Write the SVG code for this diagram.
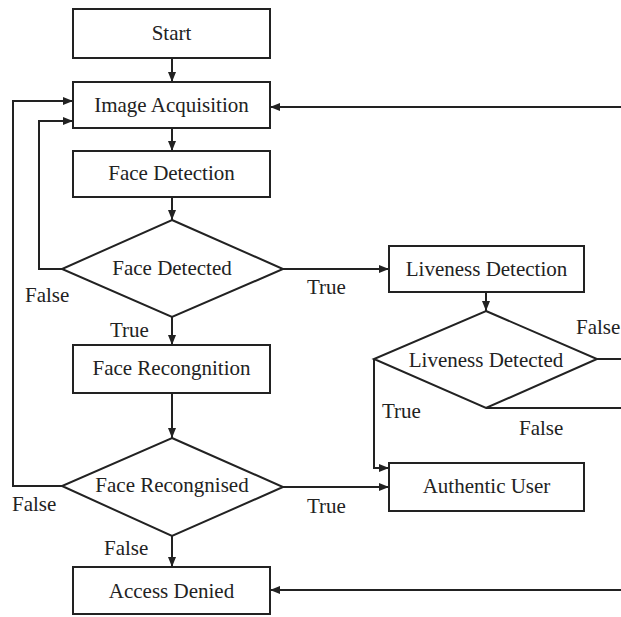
<svg xmlns="http://www.w3.org/2000/svg" width="621" height="617" viewBox="0 0 621 617">
<style>
.n{fill:#fff;stroke:#222;stroke-width:2}
.t{font-family:"Liberation Serif","Times New Roman",serif;font-size:21px;fill:#222}
.c{text-anchor:middle}
.e{fill:none;stroke:#222;stroke-width:2}
</style>
<defs>
<marker id="a" markerUnits="userSpaceOnUse" markerWidth="10" markerHeight="8" refX="10" refY="4" orient="auto">
<path d="M0,0 L10,4 L0,8 z" fill="#222"/>
</marker>
</defs>
<rect width="621" height="617" fill="#fff"/>
<g id="connectors">
<path class="e" d="M172,58 V82" marker-end="url(#a)"/>
<path class="e" d="M172,128 V151" marker-end="url(#a)"/>
<path class="e" d="M172,197 V220" marker-end="url(#a)"/>
<path class="e" d="M172,317 V345" marker-end="url(#a)"/>
<path class="e" d="M172,393 V438" marker-end="url(#a)"/>
<path class="e" d="M172,536 V567" marker-end="url(#a)"/>
<path class="e" d="M62,269 H39 V121 H73" marker-end="url(#a)"/>
<path class="e" d="M62,486 H13 V101 H73" marker-end="url(#a)"/>
<path class="e" d="M283,269 H389" marker-end="url(#a)"/>
<path class="e" d="M486,292 V311" marker-end="url(#a)"/>
<path class="e" d="M597,359 H621"/>
<path class="e" d="M486,408 H621"/>
<path class="e" d="M374,359 V468 H389" marker-end="url(#a)"/>
<path class="e" d="M283,487 H389" marker-end="url(#a)"/>
<path class="e" d="M621,107 H270" marker-end="url(#a)"/>
<path class="e" d="M621,590 H270" marker-end="url(#a)"/>
<text class="t" x="25" y="302">False</text>
<text class="t" x="110" y="337">True</text>
<text class="t" x="307" y="294">True</text>
<text class="t" x="576" y="334">False</text>
<text class="t" x="382" y="418">True</text>
<text class="t" x="519" y="435">False</text>
<text class="t" x="12" y="511">False</text>
<text class="t" x="307" y="513">True</text>
<text class="t" x="104" y="555">False</text>
</g>
<g id="start"><rect class="n" x="73" y="9" width="197" height="49"/><text class="t c" x="171.5" y="40">Start</text></g>
<g id="image-acquisition"><rect class="n" x="73" y="82" width="197" height="46"/><text class="t c" x="171.5" y="112">Image Acquisition</text></g>
<g id="face-detection"><rect class="n" x="73" y="151" width="197" height="46"/><text class="t c" x="171.5" y="180">Face Detection</text></g>
<g id="face-detected"><polygon class="n" points="172,220 283,269 172,317 62,269"/><text class="t c" x="172" y="275">Face Detected</text></g>
<g id="face-recognition"><rect class="n" x="73" y="345" width="197" height="48"/><text class="t c" x="171.5" y="375">Face Recongnition</text></g>
<g id="face-recognised"><polygon class="n" points="172,438 283,487 172,536 62,486"/><text class="t c" x="172" y="492">Face Recongnised</text></g>
<g id="access-denied"><rect class="n" x="73" y="567" width="197" height="47"/><text class="t c" x="171.5" y="598">Access Denied</text></g>
<g id="liveness-detection"><rect class="n" x="389" y="246" width="195" height="46"/><text class="t c" x="486.5" y="276">Liveness Detection</text></g>
<g id="liveness-detected"><polygon class="n" points="486,311 597,359 486,408 374,359"/><text class="t c" x="486" y="367">Liveness Detected</text></g>
<g id="authentic-user"><rect class="n" x="389" y="463" width="195" height="48"/><text class="t c" x="486.5" y="493">Authentic User</text></g>
</svg>
